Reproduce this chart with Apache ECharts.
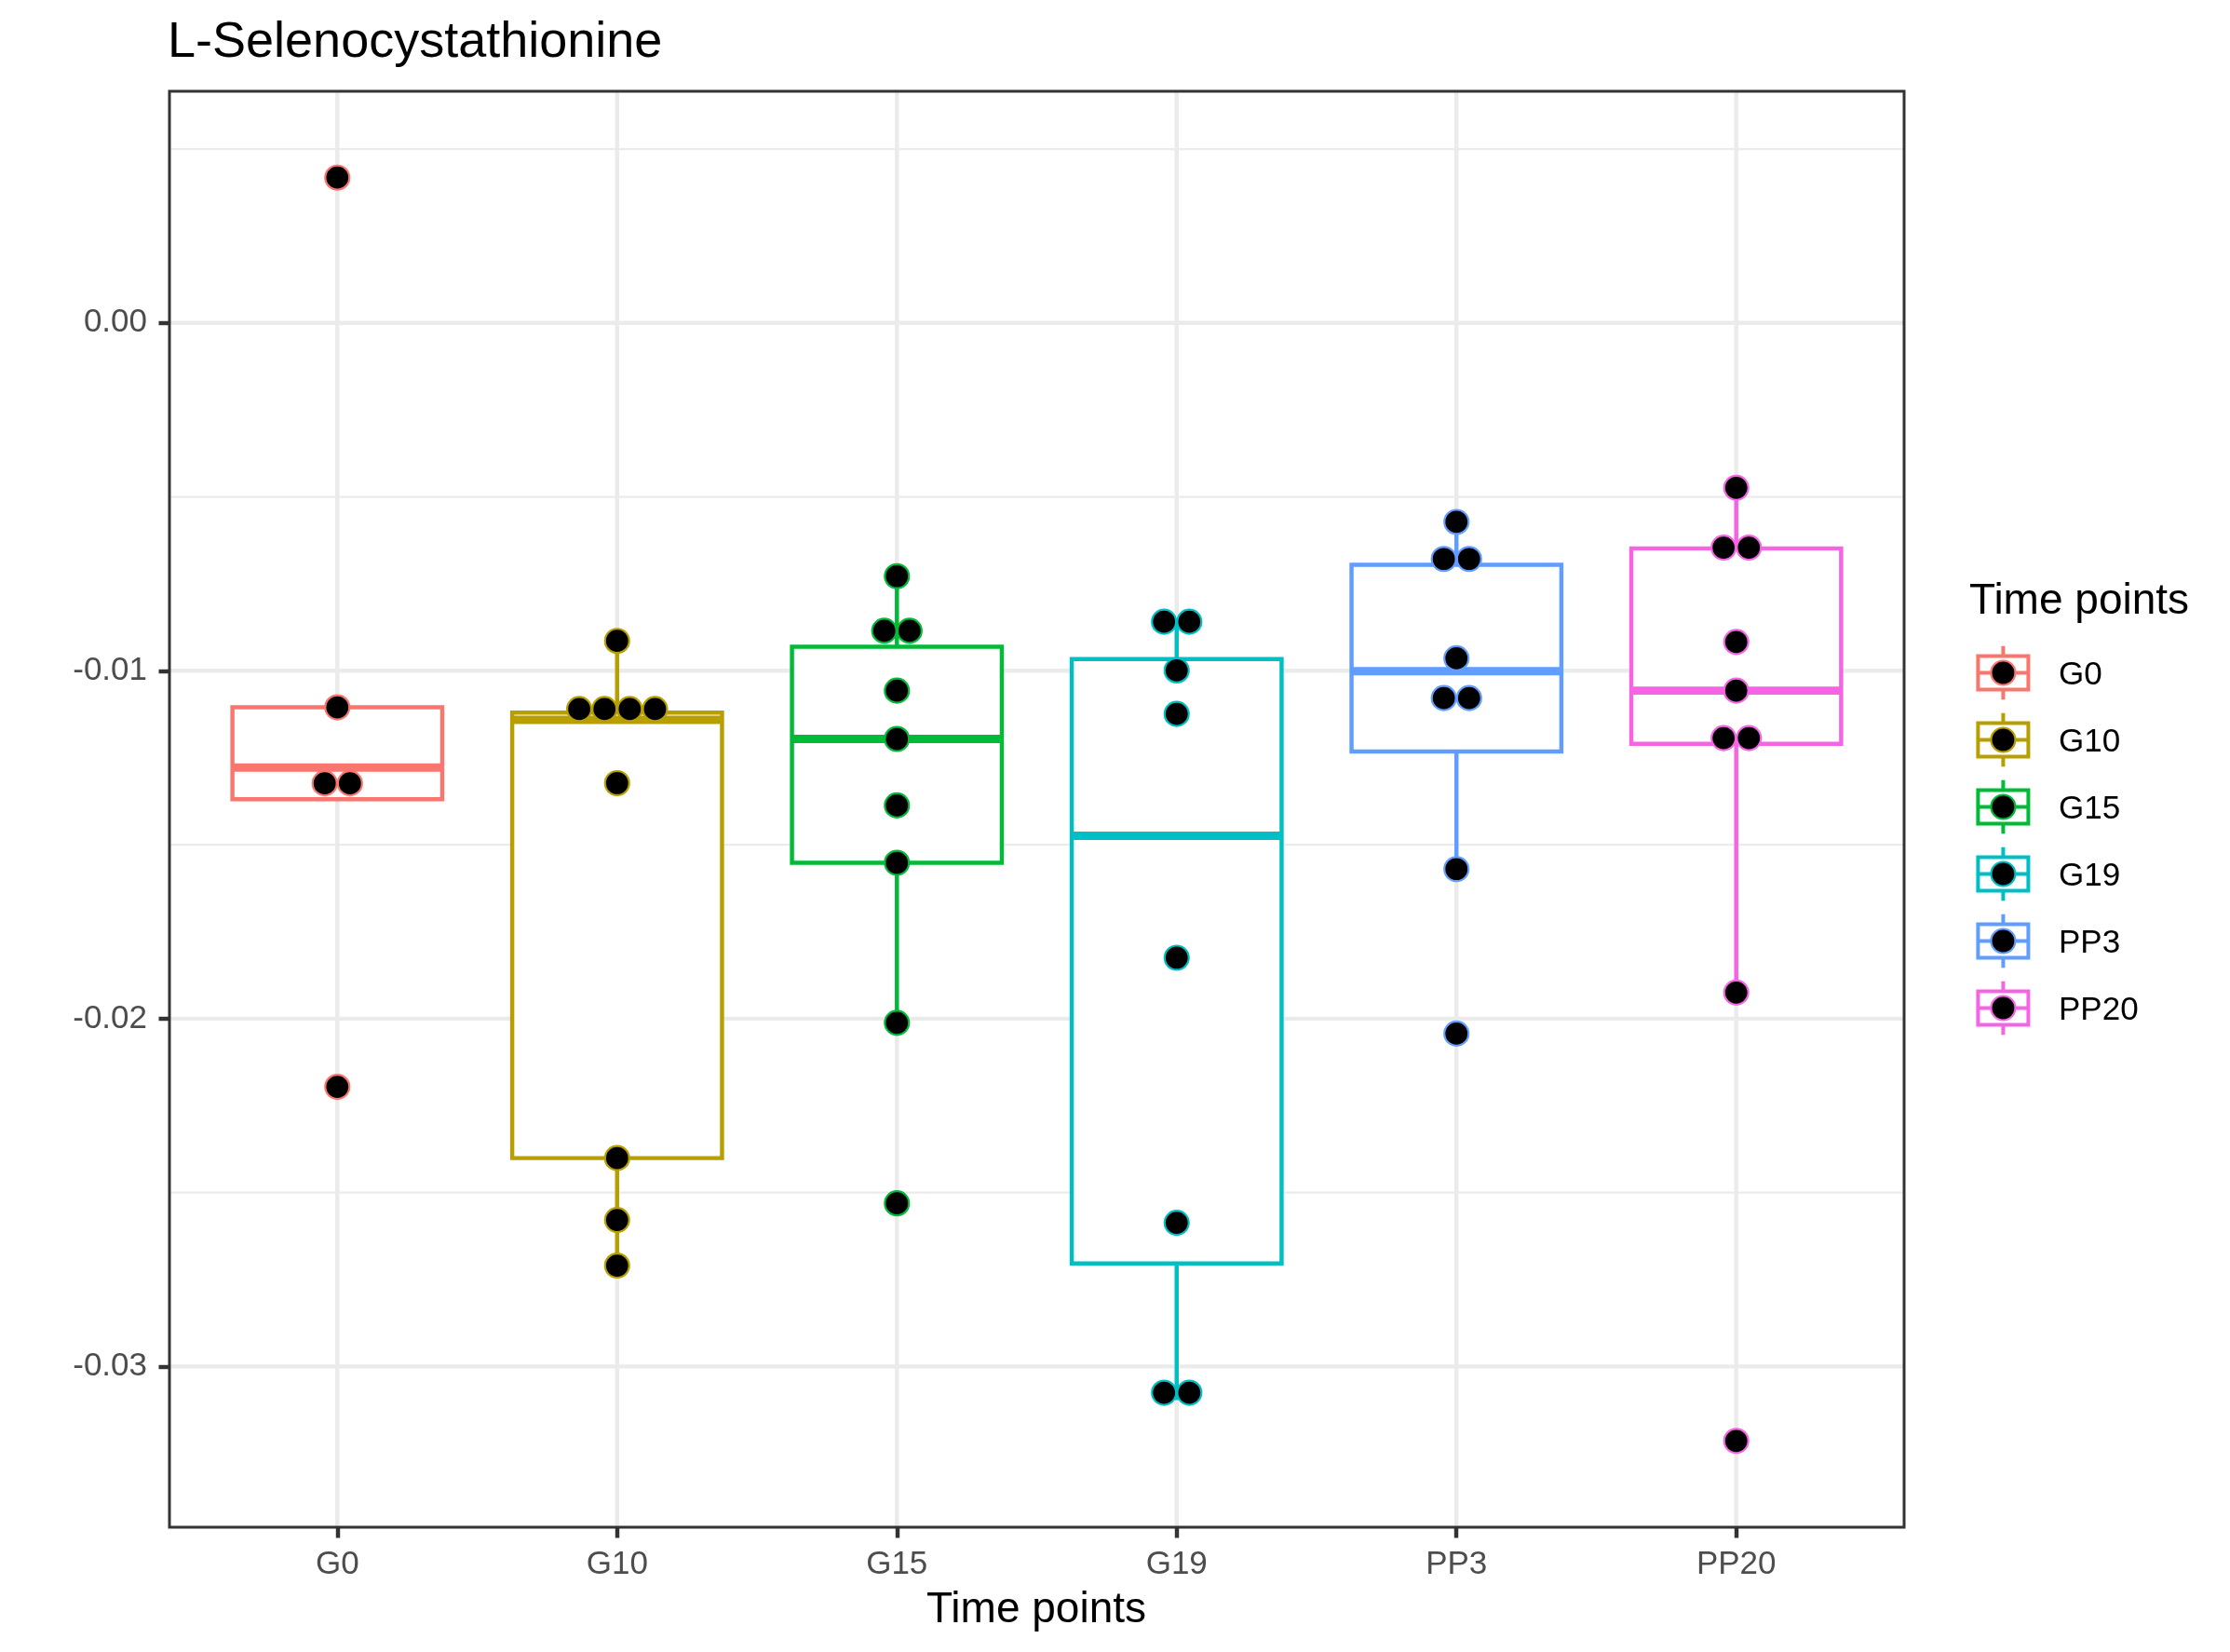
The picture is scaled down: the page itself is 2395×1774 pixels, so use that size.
<!DOCTYPE html>
<html>
<head>
<meta charset="utf-8">
<script src="https://cdn.jsdelivr.net/npm/echarts@6/dist/echarts.min.js"></script>
<style>
html,body{margin:0;padding:0;background:#ffffff;}
#main{width:2395px;height:1774px;}
</style>
</head>
<body>
<div id="main"></div>
<script>
// ---------------- data ----------------
const chartTitle = 'L-Selenocystathionine';
const xAxisTitle = 'Time points';
const legendTitle = 'Time points';
const categories = ['G0', 'G10', 'G15', 'G19', 'PP3', 'PP20'];

const valuesG0   = [0.00418, -0.01105, -0.01278, -0.01369, -0.02196];
const valuesG10  = [-0.00914, -0.01079, -0.01120, -0.01130, -0.01141, -0.01323, -0.02401, -0.02579, -0.02710];
const valuesG15  = [-0.00728, -0.00839, -0.00931, -0.01057, -0.01196, -0.01387, -0.01552, -0.02012, -0.02531];
const valuesG19  = [-0.00850, -0.00868, -0.00999, -0.01124, -0.01825, -0.02587, -0.03054, -0.03097];
const valuesPP3  = [-0.00572, -0.00645, -0.00712, -0.00964, -0.01038, -0.01119, -0.01570, -0.02043];
const valuesPP20 = [-0.00474, -0.00644, -0.00648, -0.00917, -0.01057, -0.01177, -0.01210, -0.01925, -0.03214];

const yTickValues = [0, -0.01, -0.02, -0.03];
const yMinorGridValues = [0.005, -0.005, -0.015, -0.025];

// ---------------- styles ----------------
const palette = ['#F8766D', '#B79F00', '#00BA38', '#00BFC4', '#619CFF', '#F564E3'];
const FONT = '"Liberation Sans", Arial, Helvetica, sans-serif';
const LW = 4.45;          // ggplot linewidth 0.5 at 300 dpi
const BOX_WIDTH = 0.75;   // in category units
const DOTSIZE = 0.6;      // dot diameter relative to binwidth
const GRID = {left: 182, top: 98, right: 350, bottom: 134};

// ---------------- statistics ----------------
const groupValues = [valuesG0, valuesG10, valuesG15, valuesG19, valuesPP3, valuesPP20];

function q7(sorted, p) {
  const h = (sorted.length - 1) * p;
  const lo = Math.floor(h), hi = Math.ceil(h);
  return sorted[lo] + (h - lo) * (sorted[hi] - sorted[lo]);
}

const allVals = [].concat(...groupValues);
const dMin = Math.min(...allVals), dMax = Math.max(...allVals);
const BINWIDTH = (dMax - dMin) / 30;   // ggplot default binwidth

const boxData = [];
const dotData = [];
groupValues.forEach((vals, gi) => {
  const s = vals.slice().sort((a, b) => a - b);
  const q1 = q7(s, 0.25), med = q7(s, 0.5), q3 = q7(s, 0.75);
  const iqr = q3 - q1;
  const hiW = Math.max(...s.filter(v => v <= q3 + 1.5 * iqr));
  const loW = Math.min(...s.filter(v => v >= q1 - 1.5 * iqr));
  boxData.push([gi + 1, loW, q1, med, q3, hiW, gi]);

  // dot-density binning (ggplot2 geom_dotplot, binaxis = "y")
  const bins = [];
  let binEnd = -Infinity, cur = null;
  s.forEach(v => {
    if (v >= binEnd) { binEnd = v + BINWIDTH; cur = []; bins.push(cur); }
    cur.push(v);
  });
  bins.forEach(b => {
    const center = (Math.min(...b) + Math.max(...b)) / 2;
    b.forEach((v, k) => dotData.push([gi + 1, center, k, b.length, gi]));
  });
});

const yLo = dMin - BINWIDTH / 2, yHi = dMax + BINWIDTH / 2;
const yPad = 0.05 * (yHi - yLo);
const yMin = yLo - yPad, yMax = yHi + yPad;

const gridLineData = [];
yTickValues.forEach(v => gridLineData.push([0, v]));
yMinorGridValues.forEach(v => gridLineData.push([1, v]));
categories.forEach((c, i) => gridLineData.push([2, i + 1]));

// ---------------- legend (graphic) ----------------
const legendX = 2151.4, legendY0 = 722.5, keySize = 72;
const graphics = [
  {type: 'text', x: 180, y: 46.5, z: 100,
   style: {text: chartTitle, font: '54px ' + FONT, fill: '#000000', align: 'left', verticalAlign: 'middle'}},
  {type: 'text', x: 1113, y: 1729, z: 100,
   style: {text: xAxisTitle, font: '46px ' + FONT, fill: '#000000', align: 'center', verticalAlign: 'middle'}},
  {type: 'text', x: 2115, y: 646.5, z: 100,
   style: {text: legendTitle, font: '46px ' + FONT, fill: '#000000', align: 'left', verticalAlign: 'middle'}}
];
categories.forEach((c, i) => {
  const cx = legendX, cy = legendY0 + keySize * i, col = palette[i];
  const bw = keySize * 0.75, bh = keySize * 0.5;
  graphics.push({type: 'group', z: 100, children: [
    {type: 'line', shape: {x1: cx, y1: cy - keySize * 0.4, x2: cx, y2: cy - keySize * 0.25}, style: {stroke: col, lineWidth: 4}},
    {type: 'line', shape: {x1: cx, y1: cy + keySize * 0.25, x2: cx, y2: cy + keySize * 0.4}, style: {stroke: col, lineWidth: 4}},
    {type: 'rect', shape: {x: cx - bw / 2, y: cy - bh / 2, width: bw, height: bh}, style: {fill: '#ffffff', stroke: col, lineWidth: 4}},
    {type: 'line', shape: {x1: cx - keySize * 0.375, y1: cy, x2: cx + keySize * 0.375, y2: cy}, style: {stroke: col, lineWidth: 4}},
    {type: 'circle', shape: {cx: cx, cy: cy, r: 13}, style: {fill: '#000000', stroke: col, lineWidth: 2.2}},
    {type: 'text', x: 2211, y: cy + 3, style: {text: c, font: '35px ' + FONT, fill: '#000000', align: 'left', verticalAlign: 'middle'}}
  ]});
});

// ---------------- chart ----------------
const chart = echarts.init(document.getElementById('main'), null, {renderer: 'canvas', width: 2395, height: 1774});

const option = {
  animation: false,
  backgroundColor: '#ffffff',
  grid: {left: GRID.left, top: GRID.top, right: GRID.right, bottom: GRID.bottom, containLabel: false},
  xAxis: {
    type: 'value', min: 0.4, max: 6.6, position: 'bottom',
    axisLine: {show: false, onZero: false},
    splitLine: {show: false},
    axisTick: {show: true, length: 11.5, lineStyle: {color: '#333333', width: LW}, customValues: categories.map((c, i) => i + 1)},
    axisLabel: {show: true, margin: 23, fontSize: 35, lineHeight: 35, fontFamily: FONT, color: '#4D4D4D',
      customValues: categories.map((c, i) => i + 1),
      formatter: v => categories[Math.round(v) - 1] || ''}
  },
  yAxis: {
    type: 'value', min: yMin, max: yMax, position: 'left',
    axisLine: {show: false, onZero: false},
    splitLine: {show: false},
    axisTick: {show: true, length: 11.5, lineStyle: {color: '#333333', width: LW}, customValues: yTickValues},
    axisLabel: {show: true, margin: 24, fontSize: 35, lineHeight: 35, padding: [6, 0, 0, 0], fontFamily: FONT, color: '#4D4D4D',
      customValues: yTickValues,
      formatter: v => (Math.abs(v) < 1e-12 ? 0 : v).toFixed(2)}
  },
  graphic: graphics,
  series: [
    {
      type: 'custom', name: 'grid', z: 1, silent: true,
      data: gridLineData,
      renderItem(params, api) {
        const cs = params.coordSys;
        const kind = api.value(0), v = api.value(1);
        if (kind === 2) {
          const x = api.coord([v, yMin])[0];
          return {type: 'line', shape: {x1: x, y1: cs.y, x2: x, y2: cs.y + cs.height},
                  style: {stroke: '#EBEBEB', lineWidth: LW}};
        }
        const y = api.coord([1, v])[1];
        return {type: 'line', shape: {x1: cs.x, y1: y, x2: cs.x + cs.width, y2: y},
                style: {stroke: '#EBEBEB', lineWidth: kind === 0 ? LW : LW / 2}};
      }
    },
    {
      type: 'custom', name: 'box', z: 2, silent: true,
      data: boxData,
      renderItem(params, api) {
        const x = api.value(0);
        const pLo = api.coord([x, api.value(1)]);
        const pQ1 = api.coord([x, api.value(2)]);
        const pMed = api.coord([x, api.value(3)]);
        const pQ3 = api.coord([x, api.value(4)]);
        const pHi = api.coord([x, api.value(5)]);
        const w = api.size([BOX_WIDTH, 0])[0];
        const col = palette[api.value(6)];
        return {type: 'group', children: [
          {type: 'line', shape: {x1: pQ3[0], y1: pQ3[1], x2: pHi[0], y2: pHi[1]}, style: {stroke: col, lineWidth: LW}},
          {type: 'line', shape: {x1: pQ1[0], y1: pQ1[1], x2: pLo[0], y2: pLo[1]}, style: {stroke: col, lineWidth: LW}},
          {type: 'rect', shape: {x: pQ3[0] - w / 2, y: pQ3[1], width: w, height: pQ1[1] - pQ3[1]},
           style: {fill: '#ffffff', stroke: col, lineWidth: LW, lineJoin: 'miter'}},
          {type: 'line', shape: {x1: pMed[0] - w / 2, y1: pMed[1], x2: pMed[0] + w / 2, y2: pMed[1]},
           style: {stroke: col, lineWidth: LW * 2, lineCap: 'butt'}}
        ]};
      }
    },
    {
      type: 'custom', name: 'dots', z: 3, silent: true,
      data: dotData,
      renderItem(params, api) {
        const p = api.coord([api.value(0), api.value(1)]);
        const d = api.size([0, BINWIDTH * DOTSIZE])[1];
        const k = api.value(2), n = api.value(3);
        const cx = p[0] + (k - (n - 1) / 2) * d;
        return {type: 'circle', shape: {cx: cx, cy: p[1], r: d / 2 - 0.6},
                style: {fill: '#000000', stroke: palette[api.value(4)], lineWidth: 2.2}};
      }
    },
    {
      type: 'custom', name: 'border', z: 4, silent: true,
      data: [[1, 0]],
      renderItem(params, api) {
        const cs = params.coordSys;
        return {type: 'rect', shape: {x: cs.x, y: cs.y, width: cs.width, height: cs.height},
                style: {fill: 'none', stroke: '#333333', lineWidth: 3}};
      }
    }
  ]
};
chart.setOption(option);
</script>
</body>
</html>
